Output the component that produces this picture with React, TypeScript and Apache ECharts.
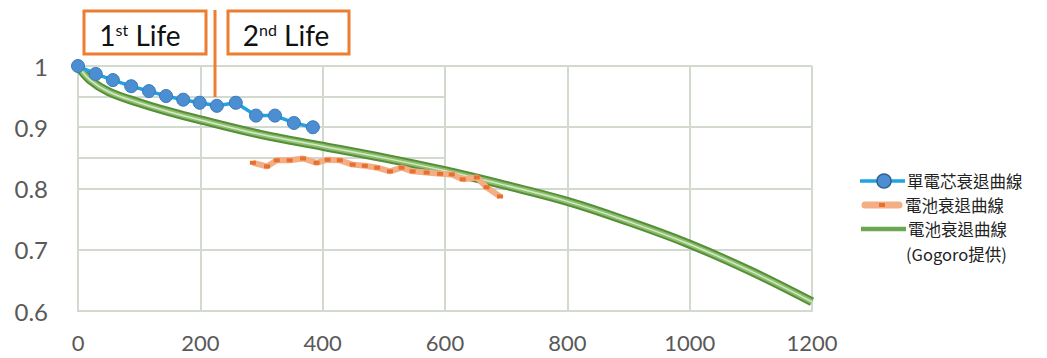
import React, { useEffect, useRef } from "react";
import * as echarts from "echarts";

// Single cell degradation (blue)
const cellX = [0, 29, 57, 87, 116, 144, 172, 199, 227, 258, 291, 322, 353, 384];
const cellY = [1.0, 0.987, 0.977, 0.967, 0.959, 0.951, 0.945, 0.94, 0.935, 0.94, 0.919, 0.919, 0.907, 0.9];

// Battery pack degradation (orange)
const packX = [286, 309, 325, 346, 368, 390, 408, 428, 449, 469, 489, 510, 529, 547, 570, 592, 611, 629, 652, 668, 690];
const packY = [0.842, 0.836, 0.846, 0.846, 0.849, 0.842, 0.847, 0.846, 0.839, 0.837, 0.834, 0.828, 0.834, 0.828, 0.826, 0.824, 0.823, 0.815, 0.818, 0.802, 0.787];

// Battery degradation provided by Gogoro (green)
const gogoroX = [0, 20, 50, 100, 150, 200, 300, 400, 500, 600, 700, 800, 900, 1000, 1100, 1200];
const gogoroY = [1.0, 0.977, 0.958, 0.94, 0.925, 0.912, 0.888, 0.869, 0.85, 0.829, 0.805, 0.779, 0.746, 0.709, 0.665, 0.615];

const xTicks = [0, 200, 400, 600, 800, 1000, 1200];
const yTicks = ["0.6", "0.7", "0.8", "0.9", "1"];
const minorLevels = [0.95, 0.85];
const minorEnd = 600;

const seriesNames = ["單電芯衰退曲線", "電池衰退曲線", "電池衰退曲線"];
const gogoroNote = "(Gogoro提供)";
const lifeLabels = [
  { num: "1", sup: "st", word: " Life" },
  { num: "2", sup: "nd", word: " Life" },
];

const zip = (xs: number[], ys: number[]) => xs.map((x, i) => [x, ys[i]]);

export default function App() {
  const ref = useRef<HTMLDivElement>(null);
  useEffect(() => {
    if (!ref.current) return;
    const chart = echarts.init(ref.current, null, { renderer: "svg" });
    const gridColor = "#D2D9CF";
    const lifeText = (l: { num: string; sup: string; word: string }) =>
      `{n|${l.num}}{s|${l.sup}}{n|${l.word}}`;
    const rich = {
      n: { fontSize: 28, fontFamily: "Lato", fill: "#111", color: "#111" },
      s: { fontSize: 16, fontFamily: "Lato", fill: "#111", color: "#111", verticalAlign: "top" },
    };
    const legendFont = {
      fontSize: 16.5,
      fontFamily: "Noto Sans CJK TC",
      fill: "#222",
      verticalAlign: "middle",
      align: "left",
    };
    const green = { type: "line", data: zip(gogoroX, gogoroY), smooth: 0.4, symbol: "none" };
    chart.setOption({
      animation: false,
      backgroundColor: "#fff",
      grid: { left: 78, right: 235, top: 66, bottom: 47 },
      xAxis: {
        type: "value",
        min: 0,
        max: 1200,
        interval: 200,
        axisLine: { show: true, lineStyle: { color: gridColor, width: 2 } },
        axisTick: { show: false },
        splitLine: { show: true, lineStyle: { color: gridColor, width: 2 } },
        axisLabel: {
          color: "#595959",
          fontSize: 22,
          fontFamily: "Lato",
          margin: 20,
          formatter: (v: number) => (xTicks.includes(v) ? String(v) : ""),
        },
      },
      yAxis: {
        type: "value",
        min: 0.6,
        max: 1,
        interval: 0.1,
        axisLine: { show: true, lineStyle: { color: gridColor, width: 2 } },
        axisTick: { show: false },
        splitLine: { show: true, lineStyle: { color: gridColor, width: 2 } },
        axisLabel: {
          color: "#595959",
          fontSize: 24,
          fontFamily: "Lato",
          margin: 30,
          formatter: (v: number) => {
            const s = String(Math.round(v * 10) / 10);
            return yTicks.includes(s) ? s : "";
          },
        },
      },
      series: [
        {
          ...green,
          name: seriesNames[2],
          lineStyle: { color: "#558F38", width: 9 },
          z: 2,
          markLine: {
            silent: true,
            symbol: "none",
            label: { show: false },
            lineStyle: { color: gridColor, width: 2, type: "solid" },
            data: minorLevels.map((lv) => [{ coord: [0, lv] }, { coord: [minorEnd, lv] }]),
            z: 1,
          },
        },
        { ...green, name: "gogoro-mid", lineStyle: { color: "#8DBE6E", width: 5 }, z: 3 },
        { ...green, name: "gogoro-center", lineStyle: { color: "#D6E8C8", width: 1.5 }, z: 3 },
        {
          name: seriesNames[1],
          type: "line",
          data: zip(packX, packY),
          symbol: "rect",
          symbolSize: [6, 4],
          lineStyle: { color: "#F4AE85", width: 6 },
          itemStyle: { color: "#E8702E" },
          z: 4,
        },
        {
          name: seriesNames[0],
          type: "line",
          data: zip(cellX, cellY),
          symbol: "circle",
          symbolSize: 13,
          lineStyle: { color: "#1FA3E2", width: 3.5 },
          itemStyle: { color: "#4C8ED2", borderColor: "#3B79BA", borderWidth: 1 },
          z: 5,
        },
      ],
      graphic: [
        {
          type: "line",
          shape: { x1: 215, y1: 10, x2: 215, y2: 97 },
          style: { stroke: "#ED7D31", lineWidth: 3 },
          z: 10,
        },
        {
          type: "rect",
          shape: { x: 84, y: 11, width: 122, height: 43 },
          style: { fill: "#fff", stroke: "#ED7D31", lineWidth: 3 },
          z: 10,
        },
        {
          type: "rect",
          shape: { x: 228, y: 11, width: 121, height: 43 },
          style: { fill: "#fff", stroke: "#ED7D31", lineWidth: 3 },
          z: 10,
        },
        {
          type: "text",
          x: 140,
          y: 21,
          style: { text: lifeText(lifeLabels[0]), rich, align: "center", verticalAlign: "top" },
          z: 11,
        },
        {
          type: "text",
          x: 286,
          y: 21,
          style: { text: lifeText(lifeLabels[1]), rich, align: "center", verticalAlign: "top" },
          z: 11,
        },
        // legend: single cell
        {
          type: "line",
          shape: { x1: 860, y1: 181, x2: 905, y2: 181 },
          style: { stroke: "#1FA3E2", lineWidth: 3.5 },
          z: 10,
        },
        {
          type: "circle",
          shape: { cx: 884, cy: 181, r: 7 },
          style: { fill: "#4C8ED2", stroke: "#2F5F95", lineWidth: 1.5 },
          z: 11,
        },
        { type: "text", x: 907, y: 181, style: { ...legendFont, text: seriesNames[0] }, z: 10 },
        // legend: pack
        {
          type: "line",
          shape: { x1: 865, y1: 205, x2: 899, y2: 205 },
          style: { stroke: "#F4AE85", lineWidth: 7, lineCap: "round" },
          z: 10,
        },
        {
          type: "rect",
          shape: { x: 879, y: 203, width: 6, height: 4 },
          style: { fill: "#E8702E" },
          z: 11,
        },
        { type: "text", x: 905, y: 205, style: { ...legendFont, text: seriesNames[1] }, z: 10 },
        // legend: gogoro
        {
          type: "line",
          shape: { x1: 861, y1: 229, x2: 906, y2: 229 },
          style: { stroke: "#6AA84F", lineWidth: 4.5 },
          z: 10,
        },
        { type: "text", x: 908, y: 229, style: { ...legendFont, text: seriesNames[2] }, z: 10 },
        { type: "text", x: 906, y: 254, style: { ...legendFont, text: gogoroNote }, z: 10 },
      ],
    });
    return () => chart.dispose();
  }, []);
  return (
    <div
      ref={ref}
      style={{ position: "fixed", left: 0, top: 0, width: 1047, height: 358, background: "#fff" }}
    />
  );
}
